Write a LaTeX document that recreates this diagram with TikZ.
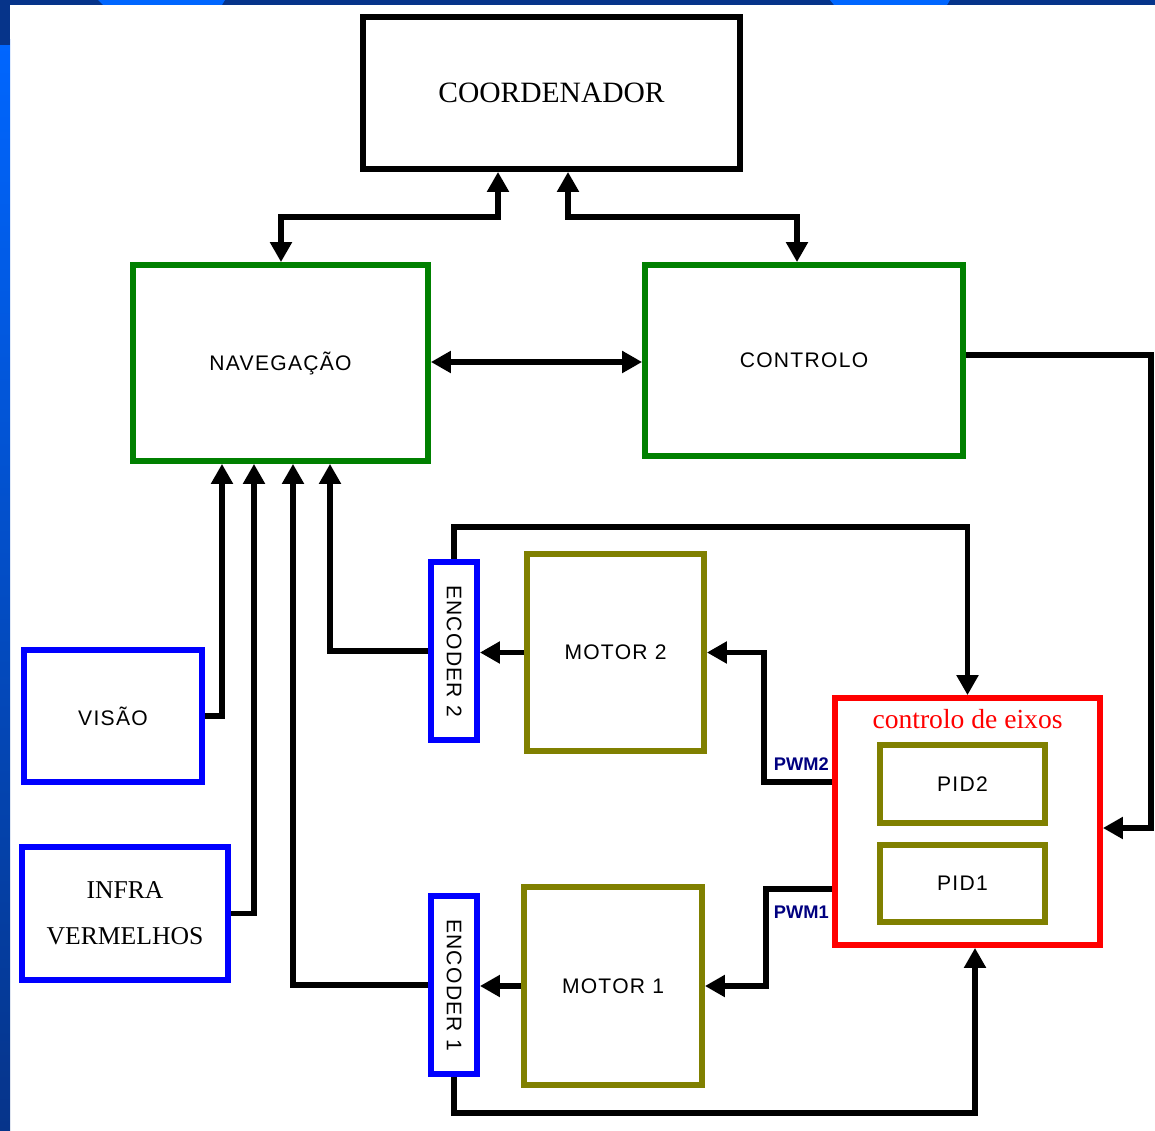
\documentclass[tikz,border=0pt]{standalone}
\usepackage{fontspec}
\setmainfont{Liberation Serif}
\setsansfont{Liberation Sans}
\usetikzlibrary{arrows.meta,calc}

\definecolor{boxgreen}{RGB}{0,128,0}
\definecolor{boxblue}{RGB}{0,0,255}
\definecolor{boxolive}{RGB}{128,128,0}
\definecolor{boxred}{RGB}{255,0,0}
\definecolor{pwmnavy}{RGB}{0,0,128}
\definecolor{slidedark}{RGB}{6,52,138}
\definecolor{slidelight}{RGB}{0,102,255}

\begin{document}
\begin{tikzpicture}[x=0.02cm,y=-0.02cm,
  box/.style={draw, line width=3.3pt, inner sep=0pt, rectangle},
  sanslabel/.style={font=\sffamily\fontsize{12}{14}\selectfont\addfontfeature{LetterSpace=6}},
  seriflabel/.style={font=\rmfamily\fontsize{16.8}{20}\selectfont},
  tip/.style={Triangle[length=0.4cm,width=0.42cm]},
  conn/.style={line width=3.3pt, black, -{Triangle[length=0.4cm,width=0.42cm]}},
  both/.style={line width=3.3pt, black, {Triangle[length=0.4cm,width=0.42cm]}-{Triangle[length=0.4cm,width=0.42cm]}},
  pwm/.style={font=\sffamily\bfseries\fontsize{10.4}{12}\selectfont, text=pwmnavy, inner sep=0pt, anchor=east}
]
% slide frame
\useasboundingbox (0,0) rectangle (1155,1131);
\fill[white] (0,0) rectangle (1155,1131);
\shade[top color=slidelight, middle color=slidelight!70!slidedark, bottom color=slidedark] (0,40) rectangle (10,1131);
\fill[slidedark] (0,0) rectangle (10,45);
\fill[slidedark] (0,0) rectangle (1155,5);
\fill[slidelight] (98,0) -- (225,0) -- (222,5) -- (103,5) -- cycle;
\fill[slidelight] (830,0) -- (950,0) -- (947,5) -- (834,5) -- cycle;

% blocks
\node[box, black, minimum width=7.54cm, minimum height=3.04cm, seriflabel] (coord) at (551.5,93) {COORDENADOR};
\node[box, boxgreen, minimum width=5.9cm, minimum height=3.92cm, sanslabel, text=black] (nav) at (280.5,363) {NAVEGAÇÃO};
\node[box, boxgreen, minimum width=6.36cm, minimum height=3.82cm, sanslabel, text=black] (ctrl) at (804,360.5) {CONTROLO};
\node[box, boxblue, minimum width=3.56cm, minimum height=2.64cm, sanslabel, text=black] (vis) at (113,716) {VISÃO};
\node[box, boxblue, minimum width=4.12cm, minimum height=2.66cm, align=center, text=black,
      font=\rmfamily\fontsize{14.6}{26}\selectfont] (ir) at (125,913.5) {INFRA\\VERMELHOS};
\node[box, boxblue, minimum width=0.92cm, minimum height=3.56cm] (enc2) at (454,651) {};
\node[sanslabel, rotate=-90] (enc2t) at (enc2) {ENCODER 2};
\node[box, boxolive, minimum width=3.54cm, minimum height=3.94cm, sanslabel, text=black] (mot2) at (615.5,652.5) {MOTOR 2};
\node[box, boxblue, minimum width=0.92cm, minimum height=3.56cm] (enc1) at (454,985) {};
\node[sanslabel, rotate=-90] (enc1t) at (enc1) {ENCODER 1};
\node[box, boxolive, minimum width=3.56cm, minimum height=3.96cm, sanslabel, text=black] (mot1) at (613,986) {MOTOR 1};
\node[box, boxred, minimum width=5.3cm, minimum height=4.94cm] (ce) at (967.5,821.5) {};
\node[font=\rmfamily\fontsize{15.7}{18}\selectfont, text=boxred] (cet) at (967.5,719) {controlo de eixos};
\node[box, boxolive, minimum width=3.3cm, minimum height=1.56cm, sanslabel, text=black] (pid2) at (962.5,784) {PID2};
\node[box, boxolive, minimum width=3.3cm, minimum height=1.54cm, sanslabel, text=black] (pid1) at (962.5,883.5) {PID1};

% routing columns and rows
\coordinate (xa) at (498,0);
\coordinate (xb) at (281,0);
\coordinate (xc) at (568,0);
\coordinate (xd) at (797,0);
\coordinate (xv) at (222,0);
\coordinate (xi) at (254,0);
\coordinate (xe1) at (293,0);
\coordinate (xe2) at (330,0);
\coordinate (xf) at (975,0);
\coordinate (xp2) at (764,0);
\coordinate (xp1) at (766,0);
\coordinate (yp2) at (0,782);
\coordinate (yp1) at (0,889);
\coordinate (yc) at (0,355);
\coordinate (yr) at (0,828);

% connectors
\draw[both] (coord.south -| xa) -- ++(0,45) -| (nav.north -| xb);
\draw[both] (coord.south -| xc) -- ++(0,45) -| (ctrl.north -| xd);
\draw[both] (nav.east |- 0,362) -- (ctrl.west |- 0,362);
\draw[conn] (ctrl.east |- yc) -- ++(185,0) |- (ce.east |- yr);
\draw[conn] (vis.east) -| (nav.south -| xv);
\draw[conn] (ir.east) -| (nav.south -| xi);
\draw[conn] (enc1.west) -| (nav.south -| xe1);
\draw[conn] (enc2.west) -| (nav.south -| xe2);
\draw[conn] (enc2.north) -- ++(0,-32) -| (ce.north);
\draw[conn] (enc1.south) -- ++(0,36) -| (ce.south -| xf);
\draw[conn] (mot2.west) -- (enc2.east |- mot2.west);
\draw[conn] (mot1.west) -- (enc1.east |- mot1.west);
\draw[conn] (ce.west |- yp2) -| (xp2 |- mot2.east) -- (mot2.east);
\draw[conn] (ce.west |- yp1) -| (xp1 |- mot1.east) -- (mot1.east);

% signal labels
\node[pwm] (pwm2) at (829,764) {PWM2};
\node[pwm] (pwm1) at (829,912) {PWM1};
\end{tikzpicture}
\end{document}
